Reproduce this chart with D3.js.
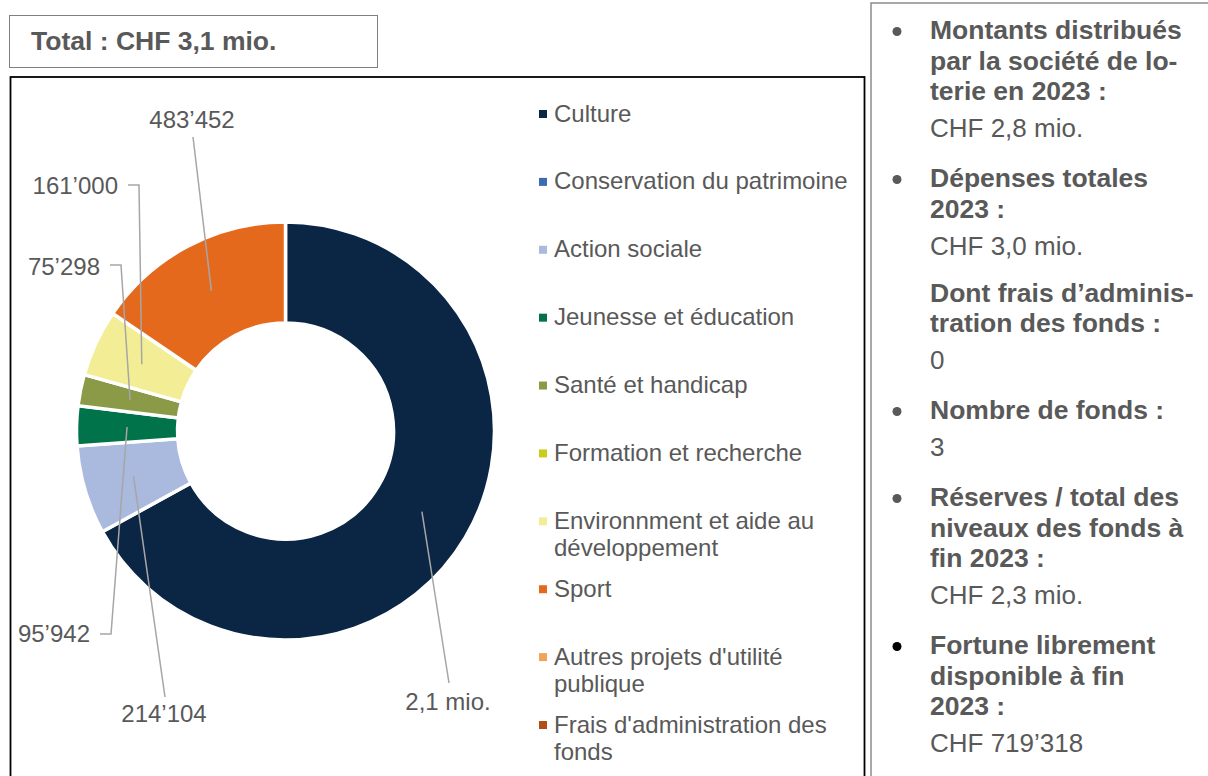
<!DOCTYPE html>
<html>
<head>
<meta charset="utf-8">
<script src="https://cdn.jsdelivr.net/npm/d3@7"></script>
<style>
  body { margin: 0; background: #fff; }
  svg { display: block; font-family: "Liberation Sans", Arial, sans-serif; }
</style>
</head>
<body>
<script>
// data
var categories = ["Culture", "Conservation du patrimoine", "Action sociale", "Jeunesse et éducation",
  "Santé et handicap", "Formation et recherche", "Environnment et aide au|développement", "Sport",
  "Autres projets d'utilité|publique", "Frais d'administration des|fonds"];
var amounts = [2091000, 0, 214104, 95942, 75298, 0, 161000, 483452, 0, 0];
var valueLabels = ["2,1 mio.", "", "214’104", "95’942", "75’298", "", "161’000", "483’452", "", ""];
var colors = ["#0b2545", "#3b6cb1", "#aab9de", "#00734a", "#8a9a46", "#c9cc1a", "#f3ee95", "#e4691c", "#f0a55b", "#b14f16"];

var totalText = "Total : CHF 3,1 mio.";
var panelItems = [
  {head: ["Montants distribués", "par la société de lo-", "terie en 2023 :"], value: "CHF 2,8 mio.", bullet: true},
  {head: ["Dépenses totales", "2023 :"], value: "CHF 3,0 mio.", bullet: true},
  {head: ["Dont frais d’adminis-", "tration des fonds :"], value: "0", bullet: false},
  {head: ["Nombre de fonds :"], value: "3", bullet: true},
  {head: ["Réserves / total des", "niveaux des fonds à", "fin 2023 :"], value: "CHF 2,3 mio.", bullet: true},
  {head: ["Fortune librement", "disponible à fin", "2023 :"], value: "CHF 719’318", bullet: true, dark: true}
];

// label placement (layout only): text x, baseline y, anchor, leader start
var labelLayout = {
  0: {x: 448, y: 710, anchor: "middle", lx: 449, ly: 683},
  2: {x: 164, y: 722, anchor: "middle", lx: 165, ly: 697},
  3: {x: 90, y: 642, anchor: "end", lx: 100, ly: 634, ex: 111},
  4: {x: 100, y: 275, anchor: "end", lx: 110, ly: 265, ex: 121},
  6: {x: 118, y: 194, anchor: "end", lx: 128, ly: 185, ex: 139},
  7: {x: 192, y: 128, anchor: "middle", lx: 193, ly: 137}
};

var W = 1208, H = 776;
var textCol = "#595959";

var svg = d3.select("body").append("svg")
  .attr("width", W)
  .attr("height", H);

// total box
svg.append("rect")
  .attr("x", 9.5).attr("y", 15.5)
  .attr("width", 368).attr("height", 52)
  .attr("fill", "none").attr("stroke", "#7f7f7f").attr("stroke-width", 1);
svg.append("text")
  .attr("x", 31).attr("y", 50)
  .attr("font-size", 26.5).attr("font-weight", "bold")
  .attr("fill", textCol)
  .text(totalText);

// chart frame
svg.append("rect")
  .attr("x", 10.5).attr("y", 77)
  .attr("width", 854).attr("height", 740)
  .attr("fill", "none").attr("stroke", "#000").attr("stroke-width", 1.8);

// donut
var cx = 285.5, cy = 431, R = 209, r0 = 108;
var pie = d3.pie().sort(null).value(function(d) { return d; }).startAngle(0).endAngle(2 * Math.PI);
var arcs = pie(amounts);
var arc = d3.arc().innerRadius(r0).outerRadius(R);

var g = svg.append("g").attr("transform", "translate(" + cx + "," + cy + ")");
g.selectAll("path.slice")
  .data(arcs.filter(function(d) { return d.value > 0; }))
  .enter().append("path")
  .attr("class", "slice")
  .attr("d", arc)
  .attr("fill", function(d) { return colors[d.index]; })
  .attr("stroke", "#fff")
  .attr("stroke-width", 3.5)
  .attr("stroke-linejoin", "miter");

// leader lines + labels
arcs.forEach(function(d) {
  var lay = labelLayout[d.index];
  if (!lay || d.value <= 0) return;
  var c = arc.centroid(d);
  var px = cx + c[0], py = cy + c[1];
  var pts = [[lay.lx, lay.ly]];
  if (lay.ex !== undefined) pts.push([lay.ex, lay.ly]);
  pts.push([px, py]);
  svg.append("path")
    .attr("d", d3.line()(pts))
    .attr("fill", "none")
    .attr("stroke", "#a6a6a6")
    .attr("stroke-width", 1.5);
  svg.append("text")
    .attr("x", lay.x).attr("y", lay.y)
    .attr("text-anchor", lay.anchor)
    .attr("font-size", 24)
    .attr("fill", textCol)
    .text(valueLabels[d.index]);
});

// legend
var legY = d3.scaleLinear().domain([0, categories.length - 1]).range([113, 724]);
var leg = svg.append("g");
categories.forEach(function(name, i) {
  var y = legY(i);
  leg.append("rect")
    .attr("x", 539).attr("y", y - 3)
    .attr("width", 8).attr("height", 8)
    .attr("fill", colors[i]);
  var t = leg.append("text")
    .attr("font-size", 24)
    .attr("fill", textCol);
  name.split("|").forEach(function(line, k) {
    t.append("tspan")
      .attr("x", 554)
      .attr("y", y + 8.5 + k * 27)
      .text(line);
  });
});

// right info panel
svg.append("path")
  .attr("d", "M871,776 V3 H1212")
  .attr("fill", "none")
  .attr("stroke", "#8c8c8c")
  .attr("stroke-width", 1.5);

var yCur = 39;
panelItems.forEach(function(item, i) {
  if (i > 0) yCur += item.bullet ? 50 : 47;
  if (item.bullet) {
    svg.append("circle")
      .attr("cx", 897).attr("cy", yCur - 7.5)
      .attr("r", 4.5)
      .attr("fill", item.dark ? "#000" : textCol);
  }
  item.head.forEach(function(line, k) {
    if (k > 0) yCur += 30.5;
    svg.append("text")
      .attr("x", 930).attr("y", yCur)
      .attr("font-size", 26.5).attr("font-weight", "bold")
      .attr("fill", textCol)
      .text(line);
  });
  yCur += 37;
  svg.append("text")
    .attr("x", 930).attr("y", yCur)
    .attr("font-size", 26)
    .attr("fill", textCol)
    .text(item.value);
});
</script>
</body>
</html>
